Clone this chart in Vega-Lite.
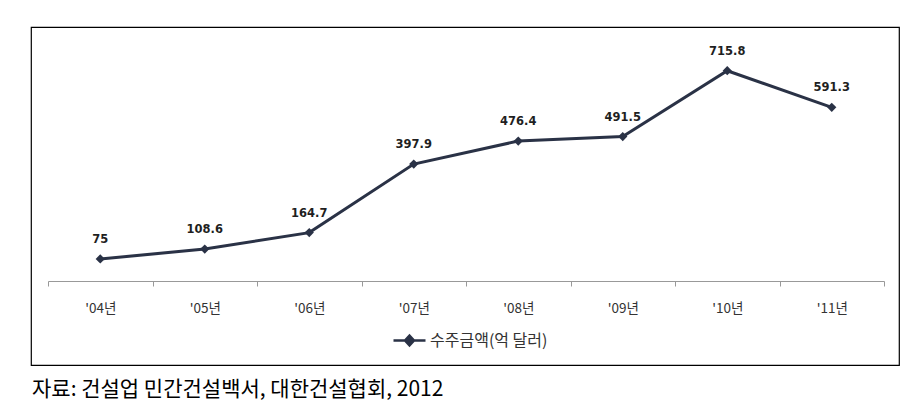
{
  "$schema": "https://vega.github.io/schema/vega-lite/v6.json",
  "width": 868,
  "height": 338,
  "autosize": {"type": "none"},
  "padding": {"left": 31, "top": 27, "right": 19, "bottom": 40},
  "background": "#ffffff",
  "config": {
    "view": {"stroke": "#000000", "strokeWidth": 1.2},
    "axis": {"grid": false}
  },
  "title": {
    "text": "자료: 건설업 민간건설백서, 대한건설협회, 2012",
    "orient": "bottom",
    "anchor": "start",
    "frame": "group",
    "font": "Noto Sans CJK KR",
    "fontSize": 21,
    "fontWeight": "normal",
    "color": "#000000",
    "offset": 14,
    "dx": 1
  },
  "data": {
    "values": [
      {"year": "'04년", "value": 75, "series": "수주금액(억 달러)"},
      {"year": "'05년", "value": 108.6, "series": "수주금액(억 달러)"},
      {"year": "'06년", "value": 164.7, "series": "수주금액(억 달러)"},
      {"year": "'07년", "value": 397.9, "series": "수주금액(억 달러)"},
      {"year": "'08년", "value": 476.4, "series": "수주금액(억 달러)"},
      {"year": "'09년", "value": 491.5, "series": "수주금액(억 달러)"},
      {"year": "'10년", "value": 715.8, "series": "수주금액(억 달러)"},
      {"year": "'11년", "value": 591.3, "series": "수주금액(억 달러)"}
    ]
  },
  "encoding": {
    "x": {
      "field": "year",
      "type": "nominal",
      "sort": null,
      "scale": {"type": "band", "range": [17, 853], "paddingInner": 0, "paddingOuter": 0},
      "axis": {
        "title": null,
        "orient": "bottom",
        "offset": -84,
        "labelAngle": 0,
        "tickBand": "extent",
        "domainColor": "#999999",
        "domainWidth": 1,
        "tickColor": "#999999",
        "tickSize": 5,
        "tickWidth": 1,
        "labelFont": "Noto Sans CJK KR",
        "labelFontSize": 13.5,
        "labelColor": "#333333",
        "labelPadding": 15
      }
    },
    "y": {
      "field": "value",
      "type": "quantitative",
      "scale": {"domain": [0, 800], "range": [254, 19], "nice": false, "zero": true},
      "axis": null
    }
  },
  "layer": [
    {
      "mark": {"type": "line", "strokeWidth": 3, "color": "#2a3246"},
      "encoding": {
        "color": {
          "field": "series",
          "type": "nominal",
          "scale": {"range": ["#2a3246"]},
          "legend": {
            "title": null,
            "orient": "none",
            "legendX": 361,
            "legendY": 296,
            "padding": 0,
            "symbolType": "M-1,0L1,0M0,-0.3L0.28,0L0,0.3L-0.28,0Z",
            "symbolSize": 1024,
            "symbolStrokeWidth": 2.5,
            "symbolStrokeColor": "#2a3246",
            "symbolFillColor": "#2a3246",
            "labelFont": "Noto Sans CJK KR",
            "labelFontSize": 16,
            "labelColor": "#333333",
            "labelOffset": 3,
            "labelLimit": 300
          }
        }
      }
    },
    {
      "mark": {"type": "point", "shape": "diamond", "filled": true, "size": 85, "color": "#2a3246", "opacity": 1}
    },
    {
      "mark": {
        "type": "text",
        "dy": -19,
        "baseline": "middle",
        "align": "center",
        "font": "DejaVu Sans",
        "fontWeight": "bold",
        "fontSize": 11.5,
        "color": "#1f1f1f"
      },
      "encoding": {
        "text": {"field": "value", "type": "quantitative", "format": "~g"}
      }
    }
  ]
}
